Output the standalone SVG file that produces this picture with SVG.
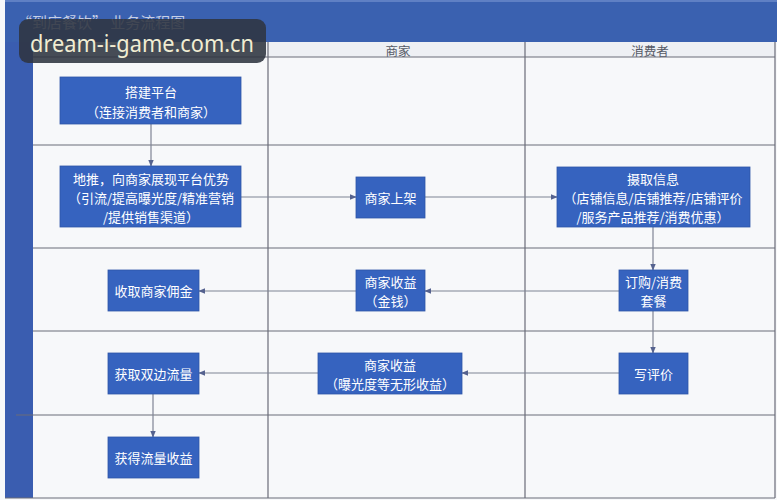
<svg xmlns="http://www.w3.org/2000/svg" width="777" height="500" viewBox="0 0 777 500">
<style>
.node rect{fill:#3663bf;stroke:#2f55a8;stroke-width:0.8}
.node text{fill:#ffffff;font-family:"Noto Sans CJK SC","Noto Sans",sans-serif;font-size:13px;text-anchor:middle;dominant-baseline:central}
.grid{stroke:#6a6c78;stroke-width:1.2;fill:none}
.hdr{fill:#555a66;font-family:"Noto Sans CJK SC",sans-serif;font-size:12.5px;text-anchor:middle;dominant-baseline:central}
.conn line{stroke:#7f8494;stroke-width:1.2;marker-end:url(#ah)}
</style>
<defs>
<marker id="ah" viewBox="0 0 10 10" refX="9" refY="5" markerWidth="7" markerHeight="7" orient="auto" markerUnits="userSpaceOnUse">
<path d="M0,1 L10,5 L0,9 z" fill="#55628f"/>
</marker>
</defs>
<rect x="0" y="0" width="777" height="500" fill="#f7f8fa"/>
<!-- title bar -->
<rect x="5" y="0" width="772" height="42" fill="#3a61b0"/>
<rect x="5" y="0" width="772" height="2" fill="#5f80c4"/>
<text x="17" y="21" font-family="Noto Sans CJK SC,sans-serif" font-size="15" fill="#c6cfe6" dominant-baseline="central">“到店餐饮” 业务流程图</text>
<!-- header row -->
<rect x="5" y="42" width="770" height="15" fill="#eef0f4"/>
<rect x="5" y="42" width="28" height="456" fill="#3a5db0"/>
<text class="hdr" x="398" y="50">商家</text>
<text class="hdr" x="650" y="50">消费者</text>
<!-- grid -->
<g class="grid">
<line x1="33" y1="57" x2="775" y2="57"/>
<line x1="33" y1="145" x2="775" y2="145"/>
<line x1="33" y1="248" x2="775" y2="248"/>
<line x1="33" y1="331" x2="775" y2="331"/>
<line x1="16" y1="415" x2="775" y2="415"/>
<line x1="5" y1="498" x2="775" y2="498"/>
<line x1="268" y1="42" x2="268" y2="498"/>
<line x1="525" y1="42" x2="525" y2="498"/>
<line x1="775" y1="42" x2="775" y2="498"/>
</g>
<!-- connectors -->
<g class="conn" id="connectors">
<line x1="151" y1="124" x2="151" y2="166"/>
<line x1="241" y1="197" x2="356" y2="197"/>
<line x1="425" y1="197" x2="557" y2="197"/>
<line x1="653" y1="227" x2="653" y2="270"/>
<line x1="619" y1="291" x2="425" y2="291"/>
<line x1="356" y1="291" x2="199" y2="291"/>
<line x1="653" y1="311" x2="653" y2="353"/>
<line x1="619" y1="373" x2="462" y2="373"/>
<line x1="318" y1="373" x2="199" y2="373"/>
<line x1="153" y1="394" x2="153" y2="437"/>
</g>
<!-- nodes -->
<g class="node" id="n-platform"><rect x="60" y="77" width="181" height="47"/><text x="151" y="91">搭建平台</text><text x="151" y="111">（连接消费者和商家）</text></g>
<g class="node" id="n-push"><rect x="60" y="166" width="181" height="61"/><text x="151" y="178">地推，向商家展现平台优势</text><text x="151" y="197">（引流/提高曝光度/精准营销</text><text x="151" y="216">/提供销售渠道）</text></g>
<g class="node" id="n-listing"><rect x="356" y="177" width="69" height="41"/><text x="390.5" y="197.5">商家上架</text></g>
<g class="node" id="n-info"><rect x="557" y="167" width="193" height="60"/><text x="653" y="178">摄取信息</text><text x="653" y="197">（店铺信息/店铺推荐/店铺评价</text><text x="653" y="216">/服务产品推荐/消费优惠）</text></g>
<g class="node" id="n-commission"><rect x="108" y="270" width="91" height="41"/><text x="153.5" y="290.5">收取商家佣金</text></g>
<g class="node" id="n-income"><rect x="356" y="270" width="69" height="41"/><text x="390.5" y="281">商家收益</text><text x="390.5" y="300">（金钱）</text></g>
<g class="node" id="n-order"><rect x="619" y="270" width="69" height="41"/><text x="653.5" y="281">订购/消费</text><text x="653.5" y="300">套餐</text></g>
<g class="node" id="n-traffic"><rect x="108" y="353" width="91" height="41"/><text x="153.5" y="373.5">获取双边流量</text></g>
<g class="node" id="n-intangible"><rect x="318" y="353" width="144" height="41"/><text x="390" y="364">商家收益</text><text x="390" y="383">（曝光度等无形收益）</text></g>
<g class="node" id="n-review"><rect x="619" y="353" width="69" height="41"/><text x="653.5" y="373.5">写评价</text></g>
<g class="node" id="n-trafficincome"><rect x="108" y="437" width="91" height="41"/><text x="153.5" y="457.5">获得流量收益</text></g>
<!-- watermark -->
<rect x="19" y="19" width="247" height="44" rx="9" fill="#2f3440" fill-opacity="0.88"/>
<text x="30" y="52" font-family="Noto Sans,DejaVu Sans,sans-serif" font-size="23" fill="#f1edd2" textLength="224" lengthAdjust="spacingAndGlyphs">dream-i-game.com.cn</text>
</svg>
